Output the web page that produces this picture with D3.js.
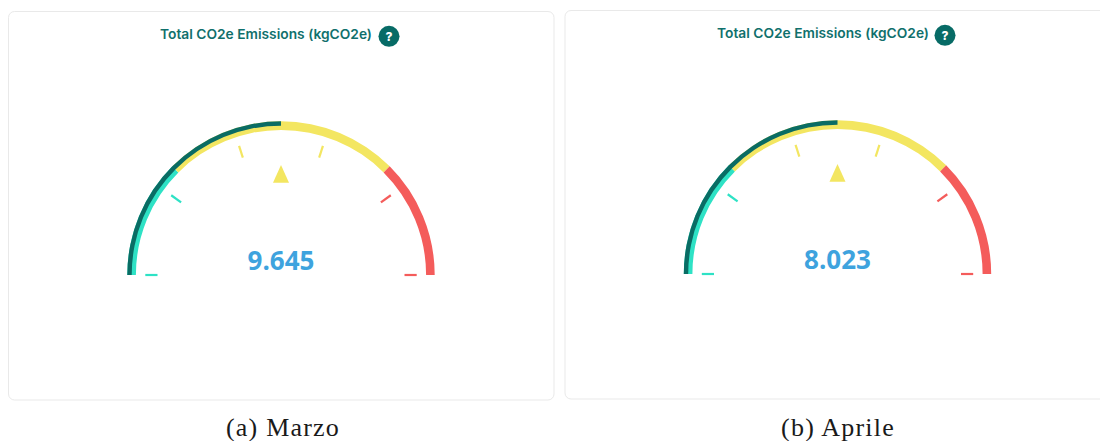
<!DOCTYPE html>
<html>
<head>
<meta charset="utf-8">
<script src="https://cdn.jsdelivr.net/npm/d3@7"></script>
<style>
html,body{margin:0;padding:0;background:#fff;overflow:hidden}
svg{display:block}
</style>
</head>
<body>
<div id="chart"></div>
<script>
// Monthly readings and the full-scale value of each dial
const months = ["(a) Marzo", "(b) Aprile"];
const readings = [9.645, 8.023];
const scaleMaxima = [19.29, 16.046];
const chartTitle = "Total CO2e Emissions (kgCO2e)";

// Band limits and tick stops, as shares of full scale
const bandStops = [0, 0.25, 0.75, 1];
const bandColors = ["#2ee2c5", "#f3e661", "#f45c5b"];
const tickStops = [0, 0.2, 0.4, 0.6, 0.8, 1];
const tickColors = ["#2ee2c5", "#2ee2c5", "#f3e661", "#f3e661", "#f45c5b", "#f45c5b"];

const W = 1100, H = 441;
const svg = d3.select("#chart").append("svg").attr("width", W).attr("height", H);

const panels = [
  {card: [8.5, 11.5, 545.5, 388.5], cx: 281, cy: 275, capX: 283, titleX: 160, helpX: 389},
  {card: [565, 10.5, 560, 388.5], cx: 837.5, cy: 274, capX: 838, titleX: 717, helpX: 945}
];

const R = 153.7, bandWidth = 8.6, needleWidth = 4.4;

panels.forEach((p, i) => {
  const g = svg.append("g");
  g.append("rect")
    .attr("x", p.card[0]).attr("y", p.card[1])
    .attr("width", p.card[2]).attr("height", p.card[3])
    .attr("rx", 6).attr("fill", "#fff").attr("stroke", "#e9e9e9");

  g.append("text").attr("x", p.titleX).attr("y", p.cy - 236.5)
    .attr("font-family", "Inter, sans-serif").attr("font-size", 13.5)
    .attr("font-weight", 600).attr("fill", "#10706c")
    .attr("textLength", 212).attr("lengthAdjust", "spacingAndGlyphs")
    .text(chartTitle);
  g.append("circle").attr("cx", p.helpX).attr("cy", p.cy - 238.7).attr("r", 10.5).attr("fill", "#076b66");
  g.append("text").attr("x", p.helpX).attr("y", p.cy - 234.2)
    .attr("text-anchor", "middle").attr("font-family", "Inter, sans-serif")
    .attr("font-size", 12).attr("font-weight", 800).attr("fill", "#fff").text("?");

  const dial = g.append("g").attr("transform", `translate(${p.cx},${p.cy})`);
  const max = scaleMaxima[i];

  // The value scale sweeps the upper half circle, left to right
  const angle = d3.scaleLinear().domain([0, max]).range([-Math.PI / 2, Math.PI / 2]);
  const band = d3.arc().innerRadius(R - bandWidth).outerRadius(R);

  dial.selectAll("path.band").data(bandColors).join("path")
    .attr("class", "band").attr("fill", d => d)
    .attr("d", (d, k) => band({startAngle: angle(bandStops[k] * max), endAngle: angle(bandStops[k + 1] * max)}));

  dial.append("path").attr("fill", "#0a6c64")
    .attr("d", d3.arc().innerRadius(R - needleWidth).outerRadius(R)({startAngle: angle(0), endAngle: angle(readings[i])}));

  dial.selectAll("line.tick").data(tickStops).join("line")
    .attr("class", "tick")
    .attr("stroke", (d, k) => tickColors[k]).attr("stroke-width", 2.2)
    .each(function (d) {
      const a = angle(d * max);
      d3.select(this)
        .attr("x1", 123.5 * Math.sin(a)).attr("y1", -123.5 * Math.cos(a))
        .attr("x2", 135.7 * Math.sin(a)).attr("y2", -135.7 * Math.cos(a));
    });

  // Pointer sits on the reading, pointing out toward the arc
  dial.append("path").attr("fill", "#f3e661")
    .attr("d", "M0,-110L8,-92.3L-8,-92.3Z")
    .attr("transform", `rotate(${angle(readings[i]) * 180 / Math.PI})`);

  dial.append("text").attr("x", 0).attr("y", -5)
    .attr("text-anchor", "middle").attr("font-family", "'Open Sans', sans-serif")
    .attr("font-size", 26).attr("font-weight", 700).attr("fill", "#3ea3de")
    .text(d3.format(".3f")(readings[i]));

  g.append("text").attr("x", p.capX).attr("y", 436)
    .attr("text-anchor", "middle").attr("font-family", "'Liberation Serif', serif")
    .attr("font-size", 26).attr("letter-spacing", 1.2).attr("fill", "#1a1a1a").text(months[i]);
});
</script>
</body>
</html>
